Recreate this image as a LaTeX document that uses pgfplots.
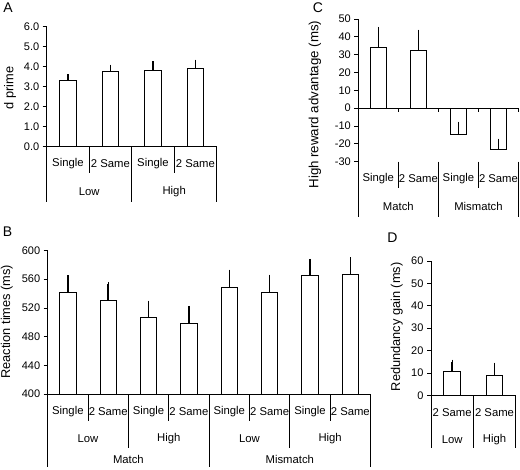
\documentclass[border=0pt]{standalone}
\usepackage{fontspec}
\setmainfont{Liberation Sans}
\usepackage{pgfplots}
\pgfplotsset{compat=1.18}
\newcommand{\lab}{\fontsize{11.3bp}{13bp}\selectfont}
\begin{document}
\begin{tikzpicture}
\useasboundingbox (0,0) rectangle (520bp,470bp);
\tikzset{dv/.style={line width=0.8pt}}
\pgfplotsset{
  panel/.style={
    scale only axis, anchor=south west,
    axis y line*=left,
    axis line style={line width=0.8pt},
    every tick/.style={black, line width=0.8pt},
    ytick align=outside, ytick pos=left,
    major tick length=4bp,
    xtick=\empty,
    tick label style={font=\fontsize{11bp}{13bp}\selectfont},
    /pgf/number format/assume math mode=true,
    ylabel style={font=\fontsize{12.8bp}{14bp}\selectfont, anchor=center},
    ybar, bar width=16.5bp, bar shift=0pt,
    clip mode=individual,
  },
  bars/.style={draw=black, fill=white, line width=0.95pt,
    error bars/.cd, y dir=plus, y explicit,
    error bar style={line width=1.5pt, black},
    error mark options={line width=1.3pt, mark size=2pt, black}},
}
% ---------------- Panel A ----------------
\node[font=\fontsize{14bp}{16bp}\selectfont] at (8bp,462bp) {A};
\begin{axis}[panel, at={(46.7bp,323.3bp)}, width=170bp, height=120bp,
  axis x line*=bottom,
  xmin=0, xmax=4, ymin=0, ymax=6, ytick={0,1,...,6},
  yticklabel style={/pgf/number format/.cd, fixed, fixed zerofill, precision=1},
  ylabel={d prime}, ylabel style={at={(axis description cs:-0.216,0.49)}}]
\addplot[bars] table[x=x, y=y, y error=e] {
x y e
0.5 3.33 0.20
1.5 3.75 0.25
2.5 3.80 0.37
3.5 3.93 0.32
};
\node[font=\lab] at (axis cs:0.5,0) [yshift=-17.3bp] {Single};
\node[font=\lab] at (axis cs:1.5,0) [yshift=-17.3bp] {2 Same};
\node[font=\lab] at (axis cs:2.5,0) [yshift=-17.3bp] {Single};
\node[font=\lab] at (axis cs:3.5,0) [yshift=-17.3bp] {2 Same};
\node[font=\lab] at (axis cs:1,0) [yshift=-45bp] {Low};
\node[font=\lab] at (axis cs:3,0) [yshift=-45bp] {High};
\draw[dv] (axis cs:1,0) -- ++(0pt,-26.7bp);
\draw[dv] (axis cs:3,0) -- ++(0pt,-26.7bp);
\draw[dv] (axis cs:0,0) -- ++(0pt,-55bp);
\draw[dv] (axis cs:2,0) -- ++(0pt,-55bp);
\draw[dv] (axis cs:4,0) -- ++(0pt,-55bp);
\end{axis}
% ---------------- Panel B ----------------
\node[font=\fontsize{14bp}{16bp}\selectfont] at (7.5bp,238bp) {B};
\begin{axis}[panel, at={(47.7bp,76bp)}, width=322.8bp, height=143.5bp,
  axis x line*=bottom,
  xmin=0, xmax=8, ymin=400, ymax=600, ytick={400,440,...,600},
  ylabel={Reaction times (ms)}, ylabel style={at={(axis description cs:-0.127,0.504)}}]
\addplot[bars] table[x=x, y=y, y error=e] {
x y e
0.5 541.0 22.0
1.5 530.6 23.0
2.5 507.3 20.0
3.5 498.5 21.4
4.5 548.2 22.3
5.5 541.7 21.8
6.5 564.5 21.0
7.5 565.9 22.0
};
\node[font=\lab] at (axis cs:0.5,400) [yshift=-17.7bp] {Single};
\node[font=\lab] at (axis cs:1.5,400) [yshift=-17.7bp] {2 Same};
\node[font=\lab] at (axis cs:2.5,400) [yshift=-17.7bp] {Single};
\node[font=\lab] at (axis cs:3.5,400) [yshift=-17.7bp] {2 Same};
\node[font=\lab] at (axis cs:4.5,400) [yshift=-17.7bp] {Single};
\node[font=\lab] at (axis cs:5.5,400) [yshift=-17.7bp] {2 Same};
\node[font=\lab] at (axis cs:6.5,400) [yshift=-17.7bp] {Single};
\node[font=\lab] at (axis cs:7.5,400) [yshift=-17.7bp] {2 Same};
\node[font=\lab] at (axis cs:1,400) [yshift=-45bp] {Low};
\node[font=\lab] at (axis cs:3,400) [yshift=-45bp] {High};
\node[font=\lab] at (axis cs:5,400) [yshift=-45bp] {Low};
\node[font=\lab] at (axis cs:7,400) [yshift=-45bp] {High};
\node[font=\lab] at (axis cs:2,400) [yshift=-65bp] {Match};
\node[font=\lab] at (axis cs:6,400) [yshift=-65bp] {Mismatch};
\draw[dv] (axis cs:1,400) -- ++(0pt,-26.7bp);
\draw[dv] (axis cs:3,400) -- ++(0pt,-26.7bp);
\draw[dv] (axis cs:5,400) -- ++(0pt,-26.7bp);
\draw[dv] (axis cs:7,400) -- ++(0pt,-26.7bp);
\draw[dv] (axis cs:2,400) -- ++(0pt,-54bp);
\draw[dv] (axis cs:6,400) -- ++(0pt,-54bp);
\draw[dv] (axis cs:0,400) -- ++(0pt,-72.7bp);
\draw[dv] (axis cs:4,400) -- ++(0pt,-72.7bp);
\draw[dv] (axis cs:8,400) -- ++(0pt,-72.7bp);
\end{axis}
% ---------------- Panel C ----------------
\node[font=\fontsize{14bp}{16bp}\selectfont] at (318bp,462bp) {C};
\begin{axis}[panel, at={(358.3bp,308.3bp)}, width=160.2bp, height=142.7bp,
  axis x line=none,
  xmin=0, xmax=4, ymin=-30, ymax=50, ytick={-30,-20,...,50},
  ylabel={High reward advantage (ms)},
  ylabel style={at={(axis description cs:-0.27,0.4)}, font=\fontsize{13.3bp}{15bp}\selectfont}]
\addplot[bars] table[x=x, y=y, y error=e] {
x y e
0.5 34.0 10.5
1.5 32.6 10.3
2.5 -15.0 6.4
3.5 -23.4 5.2
};
\draw[dv] (axis cs:0,0) -- (axis cs:4,0);
\draw[dv] (axis cs:1,0) -- ++(0pt,-4bp);
\draw[dv] (axis cs:2,0) -- ++(0pt,-4bp);
\draw[dv] (axis cs:3,0) -- ++(0pt,-4bp);
\draw[dv] (axis cs:4,0) -- ++(0pt,-4bp);
\node[font=\lab] at (axis cs:0.5,-30) [yshift=-17.3bp] {Single};
\node[font=\lab] at (axis cs:1.5,-30) [yshift=-17.3bp] {2 Same};
\node[font=\lab] at (axis cs:2.5,-30) [yshift=-17.3bp] {Single};
\node[font=\lab] at (axis cs:3.5,-30) [yshift=-17.3bp] {2 Same};
\node[font=\lab] at (axis cs:1,-30) [yshift=-44.3bp] {Match};
\node[font=\lab] at (axis cs:3,-30) [yshift=-44.3bp] {Mismatch};
\draw[dv] (axis cs:1,-30) -- ++(0pt,-26.3bp);
\draw[dv] (axis cs:3,-30) -- ++(0pt,-26.3bp);
\draw[dv] (axis cs:0,-30) -- ++(0pt,-55bp);
\draw[dv] (axis cs:2,-30) -- ++(0pt,-55bp);
\draw[dv] (axis cs:4,-30) -- ++(0pt,-55bp);
\end{axis}
% ---------------- Panel D ----------------
\node[font=\fontsize{14bp}{16bp}\selectfont] at (392.5bp,232bp) {D};
\begin{axis}[panel, at={(431bp,74.7bp)}, width=84.7bp, height=134.3bp,
  axis x line*=bottom,
  xmin=0, xmax=2, ymin=0, ymax=60, ytick={0,10,...,60},
  ylabel={Redundancy gain (ms)}, ylabel style={at={(axis description cs:-0.405,0.51)}}]
\addplot[bars] table[x=x, y=y, y error=e] {
x y e
0.5 10.5 4.5
1.5 8.75 5.0
};
\node[font=\lab] at (axis cs:0.5,0) [yshift=-17bp] {2 Same};
\node[font=\lab] at (axis cs:1.5,0) [yshift=-17bp] {2 Same};
\node[font=\lab] at (axis cs:0.5,0) [yshift=-44.7bp] {Low};
\node[font=\lab] at (axis cs:1.5,0) [yshift=-44.7bp] {High};
\draw[dv] (axis cs:0,0) -- ++(0pt,-53bp);
\draw[dv] (axis cs:1,0) -- ++(0pt,-53bp);
\draw[dv] (axis cs:2,0) -- ++(0pt,-53bp);
\end{axis}
\end{tikzpicture}
\end{document}
